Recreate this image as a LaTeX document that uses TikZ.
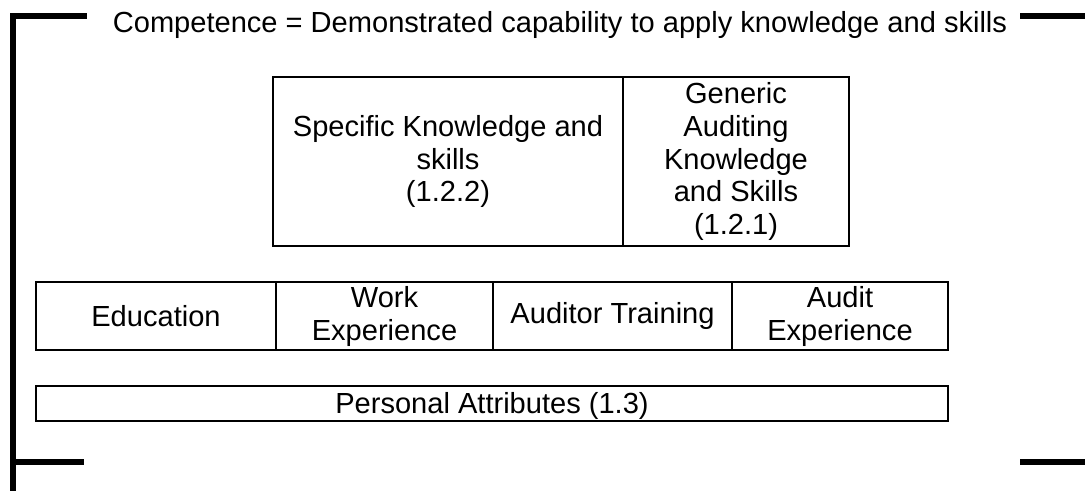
\documentclass[tikz,border=0pt]{standalone}
\usepackage{fontspec}
\setmainfont{Liberation Sans}
\begin{document}
\begin{tikzpicture}[x=0.75pt,y=-0.75pt,
  txt/.style={font=\fontsize{21.8pt}{24.5pt}\selectfont, align=center, inner sep=0pt},
  box/.style={draw=black, line width=1.6pt, rectangle, inner sep=0pt, align=center,
              font=\fontsize{21.8pt}{24.5pt}\selectfont},
  bracket/.style={line width=4.2pt, line join=miter, line cap=rect}]
\useasboundingbox (0,0) rectangle (1085,490);
% title
\node[txt, anchor=base] (title) at (560,32) {Competence = Demonstrated capability to apply knowledge and skills};
% brackets
\coordinate (tl1) at (84,15.8);
\coordinate (tl2) at (13,15.8);
\coordinate (bl0) at (13,495);
\coordinate (bl1) at (13,462);
\coordinate (bl2) at (84,462);
\coordinate (tr1) at (1020,15.8);
\coordinate (tr2) at (1090,15.8);
\coordinate (br1) at (1020,462);
\coordinate (br2) at (1090,462);
\draw[bracket] (tl1) -- (tl2) -- (bl0);
\draw[bracket, line cap=butt] (bl1) -- (bl2);
\draw[bracket, line cap=butt] (tr1) -- (tr2);
\draw[bracket, line cap=butt] (br1) -- (br2);
% top boxes
\node[box, minimum width={350*0.75pt}, minimum height={169*0.75pt}] (spec) at (448,161.5)
  {Specific Knowledge and\\skills\\(1.2.2)};
\node[box, minimum width={226*0.75pt}, minimum height={169*0.75pt}] (gen) at (736,161.5)
  {Generic\\Auditing\\Knowledge\\and Skills\\(1.2.1)};
% middle row
\node[box, minimum width={240*0.75pt}, minimum height={67.7*0.75pt}] (edu) at (156,316.2) {Education};
\node[box, minimum width={217*0.75pt}, minimum height={67.7*0.75pt}] (work) at (384.5,316.2) {Work\\Experience};
\node[box, minimum width={239*0.75pt}, minimum height={67.7*0.75pt}] (train) at (612.5,316.2) {Auditor Training};
\node[box, minimum width={216*0.75pt}, minimum height={67.7*0.75pt}] (aexp) at (840,316.2) {Audit\\Experience};
% bottom
\node[box, minimum width={912*0.75pt}, minimum height={35*0.75pt}, text height=16pt, text depth=1.3pt] (pers) at (492,403.2) {Personal Attributes (1.3)};
\end{tikzpicture}
\end{document}
